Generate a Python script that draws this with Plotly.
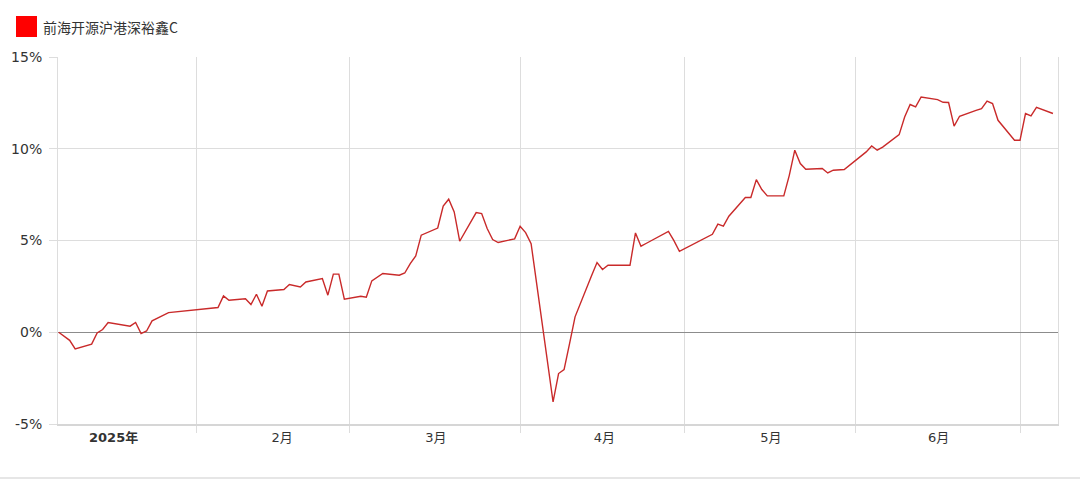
import plotly.graph_objects as go

# ---- data (cumulative return, %) ----
dates = [
    "2025-01-07", "2025-01-08", "2025-01-09", "2025-01-10", "2025-01-13", "2025-01-14",
    "2025-01-15", "2025-01-16", "2025-01-17", "2025-01-20", "2025-01-21", "2025-01-22",
    "2025-01-23", "2025-01-24", "2025-01-27",
    "2025-02-05", "2025-02-06", "2025-02-07", "2025-02-10", "2025-02-11", "2025-02-12",
    "2025-02-13", "2025-02-14", "2025-02-17", "2025-02-18", "2025-02-19", "2025-02-20",
    "2025-02-21", "2025-02-24", "2025-02-25", "2025-02-26", "2025-02-27", "2025-02-28",
    "2025-03-03", "2025-03-04", "2025-03-05", "2025-03-06", "2025-03-07", "2025-03-10",
    "2025-03-11", "2025-03-12", "2025-03-13", "2025-03-14", "2025-03-17", "2025-03-18",
    "2025-03-19", "2025-03-20", "2025-03-21", "2025-03-24", "2025-03-25", "2025-03-26",
    "2025-03-27", "2025-03-28", "2025-03-31",
    "2025-04-01", "2025-04-02", "2025-04-03", "2025-04-07", "2025-04-08", "2025-04-09",
    "2025-04-10", "2025-04-11", "2025-04-14", "2025-04-15", "2025-04-16", "2025-04-17",
    "2025-04-18", "2025-04-21", "2025-04-22", "2025-04-23", "2025-04-24", "2025-04-25",
    "2025-04-28", "2025-04-29", "2025-04-30",
    "2025-05-06", "2025-05-07", "2025-05-08", "2025-05-09", "2025-05-12", "2025-05-13",
    "2025-05-14", "2025-05-15", "2025-05-16", "2025-05-19", "2025-05-20", "2025-05-21",
    "2025-05-22", "2025-05-23", "2025-05-26", "2025-05-27", "2025-05-28", "2025-05-29",
    "2025-05-30",
    "2025-06-03", "2025-06-04", "2025-06-05", "2025-06-06", "2025-06-09", "2025-06-10",
    "2025-06-11", "2025-06-12", "2025-06-13", "2025-06-16", "2025-06-17", "2025-06-18",
    "2025-06-19", "2025-06-20", "2025-06-23", "2025-06-24", "2025-06-25", "2025-06-26",
    "2025-06-27", "2025-06-30",
    "2025-07-01", "2025-07-02", "2025-07-03", "2025-07-04", "2025-07-07",
]
returns = [
    0.00, -0.20, -0.44, -0.91, -0.65, -0.04,
    0.15, 0.53, 0.48, 0.33, 0.53, -0.07,
    0.07, 0.62, 1.07,
    1.35, 1.98, 1.74, 1.82, 1.51, 2.07,
    1.42, 2.25, 2.33, 2.60, 2.53, 2.47,
    2.74, 2.93, 2.02, 3.17, 3.17, 1.80,
    1.96, 1.91, 2.80, 3.02, 3.20, 3.11,
    3.23, 3.74, 4.16, 5.29, 5.68, 6.87,
    7.25, 6.56, 4.96, 6.52, 6.47, 5.65,
    5.05, 4.89, 5.09,
    5.78, 5.43, 4.83, -3.80, -2.25, -2.04,
    -0.62, 0.84, 3.08, 3.80, 3.42, 3.65,
    3.65, 3.65, 5.41, 4.69, 4.85, 5.01,
    5.50, 4.99, 4.41,
    5.34, 5.89, 5.78, 6.32, 7.34, 7.34,
    8.32, 7.78, 7.43, 7.43, 8.55, 9.92,
    9.19, 8.88, 8.92, 8.68, 8.83, 8.85,
    8.87,
    9.83, 10.15, 9.92, 10.09, 10.77, 11.73,
    12.41, 12.28, 12.82, 12.68, 12.53, 12.52,
    11.23, 11.77, 12.09, 12.19, 12.60, 12.46,
    11.55, 10.46,
    10.46, 11.92, 11.79, 12.25, 11.92,
]
series_name = "前海开源沪港深裕鑫C"

month_starts = ["2025-02-01", "2025-03-01", "2025-04-01", "2025-05-01", "2025-06-01", "2025-07-01"]
label_dates = ["2025-01-17", "2025-02-16 16:00", "2025-03-16 16:00", "2025-04-16 08:00",
               "2025-05-16 16:00", "2025-06-16 04:00"]
label_texts = ["<b>2025年</b>", "2月", "3月", "4月", "5月", "6月"]
y_ticks = [-5, 0, 5, 10, 15]
y_tick_texts = ["-5%", "0%", "5%", "10%", "15%"]

FONT = "DejaVu Sans, Noto Sans CJK SC, sans-serif"

fig = go.Figure()
fig.add_trace(go.Scatter(
    x=dates, y=returns, mode="lines", name=series_name,
    line=dict(color="#c92a2a", width=1.4), showlegend=False,
    hovertemplate="%{x}<br>%{y:.2f}%<extra></extra>",
))

fig.update_layout(
    width=1080, height=479,
    margin=dict(l=58, r=22, t=57, b=55),
    paper_bgcolor="white", plot_bgcolor="white",
    font=dict(family=FONT, size=13, color="#333333"),
    showlegend=False,
    xaxis=dict(
        type="date",
        range=["2025-01-06 21:00", "2025-07-07 22:00"],
        tickmode="array", tickvals=label_dates, ticktext=label_texts,
        ticks="", showgrid=False, zeroline=False,
        showline=True, linecolor="#d6d6d6", linewidth=2,
        tickfont=dict(family=FONT, size=13, color="#333333"),
        minor=dict(tickmode="array", tickvals=month_starts, showgrid=True,
                   gridcolor="#dddddd", gridwidth=1, ticks="outside",
                   ticklen=7, tickcolor="#dddddd", tickwidth=1),
        fixedrange=True,
    ),
    yaxis=dict(
        range=[-5, 15], tickmode="array", tickvals=y_ticks, ticktext=y_tick_texts,
        showgrid=True, gridcolor="#dddddd", gridwidth=1,
        zeroline=True, zerolinecolor="#8c8c8c", zerolinewidth=1,
        ticks="outside", ticklen=8, tickcolor="#dddddd",
        showline=True, linecolor="#dddddd", linewidth=1, mirror=True,
        tickfont=dict(family=FONT, size=14, color="#333333"),
        ticklabelstandoff=4,
        fixedrange=True,
    ),
    shapes=[
        dict(type="rect", xref="paper", yref="paper",
             x0=-0.042, x1=-0.021, y0=1.0545, y1=1.1117,
             fillcolor="#ff0000", line=dict(width=0)),
        dict(type="rect", xref="paper", yref="paper",
             x0=-0.06, x1=1.03, y0=-0.16, y1=-0.1445,
             fillcolor="#e6e6e6", line=dict(width=0)),
    ],
    annotations=[
        dict(text=series_name, xref="paper", yref="paper", x=-0.017, y=1.083,
             xanchor="left", yanchor="middle", showarrow=False,
             font=dict(family="Noto Sans CJK SC, sans-serif", size=14, color="#333333")),
    ],
)

fig.write_html(
    "out.html",
    config={"displayModeBar": False},
    post_script="document.body.style.margin='0';document.body.style.padding='0';"
                "document.body.style.overflow='hidden';",
)
